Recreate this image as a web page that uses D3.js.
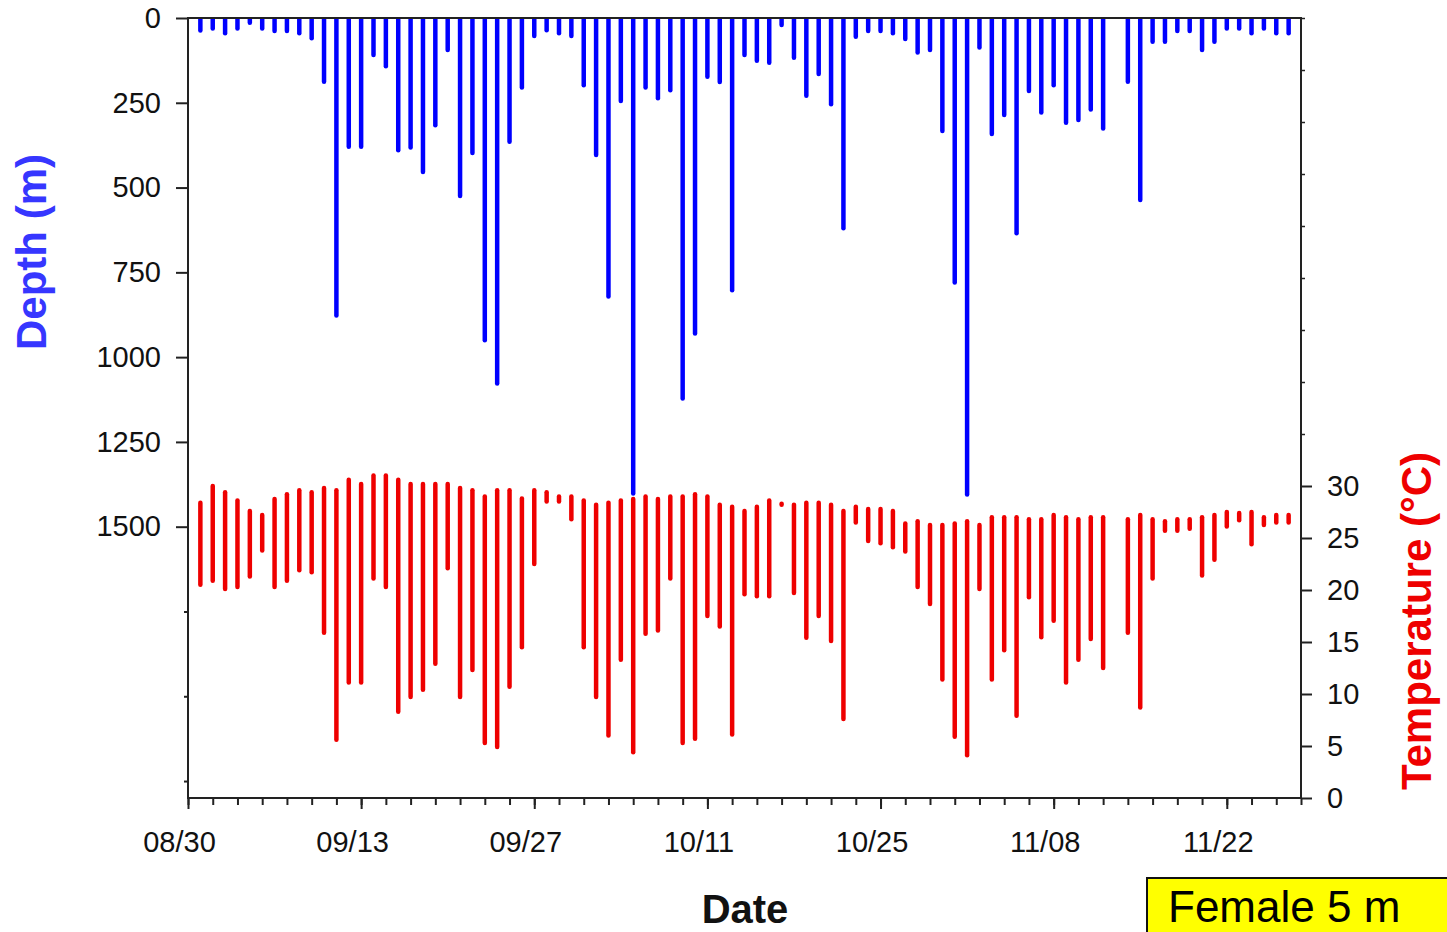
<!DOCTYPE html>
<html>
<head>
<meta charset="utf-8">
<script src="https://cdn.jsdelivr.net/npm/d3@7"></script>
<style>
  html, body { margin: 0; padding: 0; background: #fff; }
  svg { display: block; font-family: "Liberation Sans", Arial, sans-serif; }
</style>
</head>
<body>
<svg id="chart" width="1447" height="932"></svg>
<script>
// ---- Data ----
const dates = [
  "08/31","09/01","09/02","09/03","09/04","09/05","09/06","09/07","09/08","09/09",
  "09/10","09/11","09/12","09/13","09/14","09/15","09/16","09/17","09/18","09/19",
  "09/20","09/21","09/22","09/23","09/24","09/25","09/26","09/27","09/28","09/29",
  "09/30","10/01","10/02","10/03","10/04","10/05","10/06","10/07","10/08","10/09",
  "10/10","10/11","10/12","10/13","10/14","10/15","10/16","10/17","10/18","10/19",
  "10/20","10/21","10/22","10/23","10/24","10/25","10/26","10/27","10/28","10/29",
  "10/30","10/31","11/01","11/02","11/03","11/04","11/05","11/06","11/07","11/08",
  "11/09","11/10","11/11","11/12","11/14","11/15","11/16","11/17","11/18",
  "11/19","11/20","11/21","11/22","11/23","11/24","11/25","11/26","11/27"
];
// Maximum daily depth (m)
const maxDepth = [
  37, 31, 45, 31, 14, 31, 38, 38, 45, 60,
  188, 877, 380, 380, 109, 142, 390, 382, 454, 316,
  94, 525, 398, 950, 1078, 365, 205, 53, 36, 45,
  53, 198, 404, 821, 245, 1402, 205, 237, 213, 1122,
  930, 173, 189, 803, 109, 126, 132, 21, 117, 229,
  165, 254, 620, 55, 38, 38, 45, 62, 102, 94,
  333, 780, 1405, 87, 342, 286, 635, 215, 279, 198,
  309, 301, 270, 326, 188, 537, 70, 70, 38,
  38, 94, 70, 31, 31, 45, 31, 45, 45
];
// Daily maximum temperature (°C)
const tempMax = [
  28.4, 30.0, 29.4, 28.6, 27.6, 27.2, 28.75, 29.2, 29.6, 29.4,
  29.8, 29.6, 30.6, 30.2, 31.0, 31.0, 30.6, 30.2, 30.2, 30.2,
  30.2, 29.8, 29.6, 29.0, 29.6, 29.6, 28.8, 29.6, 29.4, 29.0,
  29.0, 28.6, 28.2, 28.4, 28.6, 28.75, 29.0, 28.75, 29.0, 29.0,
  29.2, 29.0, 28.2, 28.0, 27.6, 28.0, 28.6, 28.3, 28.2, 28.4,
  28.4, 28.2, 27.6, 28.0, 27.8, 27.8, 27.6, 26.4, 26.6, 26.25,
  26.25, 26.4, 26.6, 26.25, 27.0, 27.0, 27.0, 26.8, 26.8, 27.2,
  27.0, 26.8, 27.0, 27.0, 26.8, 27.2, 26.8, 26.6, 26.8,
  26.8, 27.0, 27.2, 27.5, 27.4, 27.5, 27.0, 27.2, 27.2
];
// Daily minimum temperature (°C)
const tempMin = [
  20.5, 20.9, 20.1, 20.3, 21.3, 23.8, 20.3, 20.9, 21.9, 21.7,
  15.9, 5.6, 11.1, 11.1, 21.1, 20.3, 8.3, 9.7, 10.4, 12.9,
  22.1, 9.7, 12.3, 5.3, 4.9, 10.7, 14.5, 22.5, 28.5, 28.5,
  26.8, 14.5, 9.7, 6.0, 13.3, 4.4, 15.8, 16.1, 21.1, 5.3,
  5.7, 17.5, 16.5, 6.1, 19.6, 19.4, 19.4, 28.2, 19.7, 15.4,
  17.5, 15.1, 7.6, 26.5, 24.7, 24.5, 24.1, 23.7, 20.3, 18.65,
  11.4, 5.9, 4.1, 20.1, 11.4, 14.2, 7.9, 19.3, 15.45, 17.05,
  11.1, 13.3, 15.3, 12.5, 15.9, 8.7, 21.1, 25.7, 25.7,
  25.9, 21.4, 22.9, 26.1, 26.7, 24.4, 26.25, 26.5, 26.5
];
const dateTickLabels = ["08/30","09/13","09/27","10/11","10/25","11/08","11/22"];
const depthTickLabels = [0, 250, 500, 750, 1000, 1250, 1500];
const depthMinorTicks = [1750, 2000, 2250];
const tempTickLabels = [0, 5, 10, 15, 20, 25, 30];
const tempMinorTicks = [35, 40, 45, 50, 55, 60, 65, 70, 75];
const YEAR = 2010;

// ---- Layout ----
const L = 188, R = 1301, T = 18, B = 798;
const parse = s => { const [m, d] = s.split("/").map(Number); return new Date(Date.UTC(YEAR, m - 1, d)); };

const svg = d3.select("#chart");
svg.append("rect").attr("width", 1447).attr("height", 932).attr("fill", "#fff");

const x = d3.scaleUtc().domain([parse("08/30"), parse("11/28")]).range([L, R]);
const yDepth = d3.scaleLinear().domain([0, 2300]).range([T, B]);
const yTemp = d3.scaleLinear().domain([0, 75]).range([B, T]);

const rows = dates.map((d, i) => ({ date: parse(d), depth: maxDepth[i], tmax: tempMax[i], tmin: tempMin[i] }));

// clip so bars start at the surface line
svg.append("clipPath").attr("id", "plotclip")
  .append("rect").attr("x", L).attr("y", T).attr("width", R - L).attr("height", B - T);

// ---- Depth bars ----
svg.append("g").attr("clip-path", "url(#plotclip)")
  .selectAll("line").data(rows).join("line")
  .attr("x1", d => x(d.date)).attr("x2", d => x(d.date))
  .attr("y1", yDepth(0) - 4).attr("y2", d => yDepth(d.depth))
  .attr("stroke", "#0000ff").attr("stroke-width", 4.5).attr("stroke-linecap", "round");

// ---- Temperature bars ----
svg.append("g")
  .selectAll("line").data(rows).join("line")
  .attr("x1", d => x(d.date)).attr("x2", d => x(d.date))
  .attr("y1", d => yTemp(d.tmax)).attr("y2", d => yTemp(d.tmin))
  .attr("stroke", "#ee0000").attr("stroke-width", 4.5).attr("stroke-linecap", "round");

// ---- Axes ----
const axisColor = "#222";
function styleAxis(g, fs) {
  g.selectAll(".domain").attr("stroke", axisColor).attr("stroke-width", 2);
  g.selectAll(".tick line").attr("stroke", axisColor).attr("stroke-width", 2);
  g.selectAll(".tick text").attr("fill", "#111").style("font-size", fs + "px")
    .style("font-family", '"Liberation Sans", Arial, sans-serif');
}

// Left depth axis
const gl = svg.append("g").attr("transform", `translate(${L},0)`)
  .call(d3.axisLeft(yDepth).tickValues(depthTickLabels).tickSize(12).tickSizeOuter(0)
    .tickPadding(15).tickFormat(d3.format("d")));
styleAxis(gl, 29);
gl.select(".domain").remove();
const glm = svg.append("g").attr("transform", `translate(${L},0)`)
  .call(d3.axisLeft(yDepth).tickValues(depthMinorTicks).tickSize(4).tickFormat(""));
styleAxis(glm, 29);
glm.select(".domain").remove();

// Right temperature axis
const gr = svg.append("g").attr("transform", `translate(${R},0)`)
  .call(d3.axisRight(yTemp).tickValues(tempTickLabels).tickSize(11).tickSizeOuter(0)
    .tickPadding(15).tickFormat(d3.format("d")));
styleAxis(gr, 29);
gr.select(".domain").remove();
const grm = svg.append("g").attr("transform", `translate(${R},0)`)
  .call(d3.axisRight(yTemp).tickValues(tempMinorTicks).tickSize(4).tickFormat(""));
styleAxis(grm, 29);
grm.select(".domain").remove();
grm.selectAll(".tick line").attr("stroke-width", 1.5);

// Bottom date axis (minor every 2 days, major every 14 days)
const minorDates = d3.utcDay.range(parse("08/30"), parse("11/29")).filter((d, i) => i % 2 === 0);
const gbm = svg.append("g").attr("transform", `translate(0,${B})`)
  .call(d3.axisBottom(x).tickValues(minorDates).tickSize(7).tickFormat(""));
styleAxis(gbm, 29);
gbm.select(".domain").remove();
const gb = svg.append("g").attr("transform", `translate(0,${B})`)
  .call(d3.axisBottom(x).tickValues(dateTickLabels.map(parse)).tickSize(11).tickSizeOuter(0)
    .tickPadding(22).tickFormat((d, i) => dateTickLabels[i]));
styleAxis(gb, 29);
gb.select(".domain").remove();
gb.selectAll(".tick text").attr("dx", -9);

// Frame lines
const frame = [[L, T, R, T], [L, B, R, B], [L, T, L, B], [R, T, R, B]];
svg.append("g").selectAll("line").data(frame).join("line")
  .attr("x1", d => d[0]).attr("y1", d => d[1]).attr("x2", d => d[2]).attr("y2", d => d[3])
  .attr("stroke", axisColor).attr("stroke-width", 2).attr("stroke-linecap", "square");

// ---- Titles ----
svg.append("text").text("Depth (m)")
  .attr("transform", "translate(46,252) rotate(-90)")
  .attr("text-anchor", "middle").attr("fill", "#3636ff")
  .style("font-size", "42px").style("font-weight", "bold");

svg.append("text").text("Temperature (°C)")
  .attr("transform", "translate(1431,621) rotate(-90)")
  .attr("text-anchor", "middle").attr("fill", "#ee0000")
  .style("font-size", "42px").style("font-weight", "bold");

svg.append("text").text("Date")
  .attr("x", 745).attr("y", 923)
  .attr("text-anchor", "middle").attr("fill", "#111")
  .style("font-size", "40px").style("font-weight", "bold");

// ---- Label box ----
svg.append("rect").attr("x", 1147).attr("y", 878).attr("width", 320).attr("height", 80)
  .attr("fill", "#ffff00").attr("stroke", "#111").attr("stroke-width", 2);
svg.append("text").text("Female 5 m").attr("x", 1168).attr("y", 922)
  .attr("fill", "#000").style("font-size", "44px");
</script>
</body>
</html>
